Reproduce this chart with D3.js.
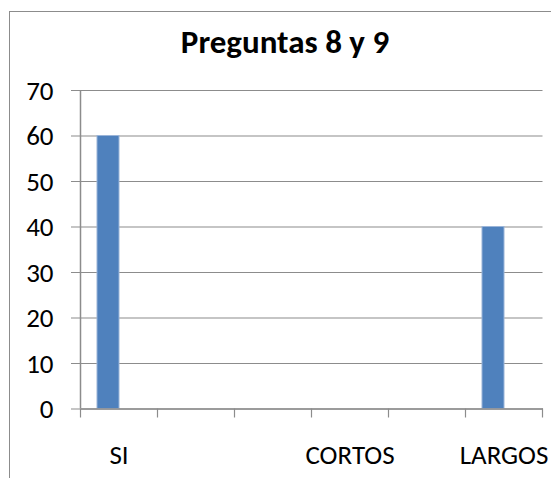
<!DOCTYPE html>
<html><head><meta charset="utf-8">
<script src="https://cdn.jsdelivr.net/npm/d3@7"></script>
<style>html,body{margin:0;padding:0;background:#fff;}svg{display:block;}text{font-family:Carlito,Calibri,Lato,"Open Sans",sans-serif;}</style>
</head><body>
<svg id="c" width="551" height="478"></svg>
<script>
const title = "Preguntas 8 y 9";
const categories = ["SI", "", "", "CORTOS", "", "LARGOS"];
const seriesNames = ["Serie1", "Serie2"];
const serie1 = [60, 0, 0, 0, 0, 40];
const serie2 = [null, null, null, null, null, null];
const yTicks = [0, 10, 20, 30, 40, 50, 60, 70];

const svg = d3.select("#c");
const m = {left: 80.5, right: 542.5, top: 90, bottom: 408.5};

svg.append("rect").attr("x", 9.5).attr("y", 11.5).attr("width", 700).attr("height", 700)
  .attr("fill", "#fff").attr("stroke", "#8c8c8c").attr("stroke-width", 1);

svg.append("text").attr("x", 285).attr("y", 53).attr("text-anchor", "middle")
  .attr("font-weight", "bold").attr("font-size", 33).attr("fill", "#000").text(title);

const idx = categories.map((d, i) => i);
const x = d3.scaleBand().domain(idx).range([m.left, m.right]).paddingInner(0).paddingOuter(0);
const x1 = d3.scaleBand().domain(seriesNames).range([0, x.bandwidth()]).paddingInner(0).paddingOuter(0.75);
const y = d3.scaleLinear().domain([0, 70]).range([m.bottom, m.top]);

// gridlines + y axis
const yAxis = d3.axisLeft(y).tickValues(yTicks).tickSize(m.right - 71).tickPadding(16).tickFormat(d3.format("d"));
const gy = svg.append("g").attr("transform", `translate(${m.right},0)`).call(yAxis);
gy.select(".domain").remove();
gy.selectAll(".tick line").attr("stroke", "#8c8c8c").attr("stroke-width", 1.2);
gy.selectAll(".tick text").attr("font-size", 27).attr("fill", "#000")
  .attr("x", -(m.right - 53.5)).attr("dy", "0.34em");

// bars
const data = categories.map((c, i) => ({i, vals: [serie1[i], serie2[i]]}));
const colors = ["#4f81bd", "#c0504d"];
const g = svg.append("g");
data.forEach(d => {
  d.vals.forEach((v, k) => {
    if (v == null || v === 0) return;
    g.append("rect")
      .attr("x", x(d.i) + x1(seriesNames[k]))
      .attr("y", y(v))
      .attr("width", x1.bandwidth())
      .attr("height", y(0) - y(v))
      .attr("fill", colors[k])
      .attr("stroke", "#9ab4d8").attr("stroke-width", 1);
  });
});

// y axis line
svg.append("line").attr("x1", m.left).attr("x2", m.left).attr("y1", m.top).attr("y2", m.bottom)
  .attr("stroke", "#8c8c8c").attr("stroke-width", 1.5);

// x axis
const xAxis = d3.axisBottom(x).tickSize(0).tickFormat(i => categories[i]);
const gx = svg.append("g").attr("transform", `translate(0,${m.bottom})`).call(xAxis);
gx.select(".domain").attr("stroke", "#8c8c8c").attr("stroke-width", 1.5);
gx.selectAll(".tick text").attr("font-size", 27).attr("fill", "#000").attr("y", 0).attr("dy", "55");
// category boundary tick marks
const bounds = idx.map(i => x(i)).concat([x(idx[idx.length - 1]) + x.bandwidth()]);
svg.append("g").selectAll("line").data(bounds).join("line")
  .attr("x1", d => d).attr("x2", d => d).attr("y1", m.bottom).attr("y2", m.bottom + 9)
  .attr("stroke", "#8c8c8c").attr("stroke-width", 1.2);
</script>
</body></html>
